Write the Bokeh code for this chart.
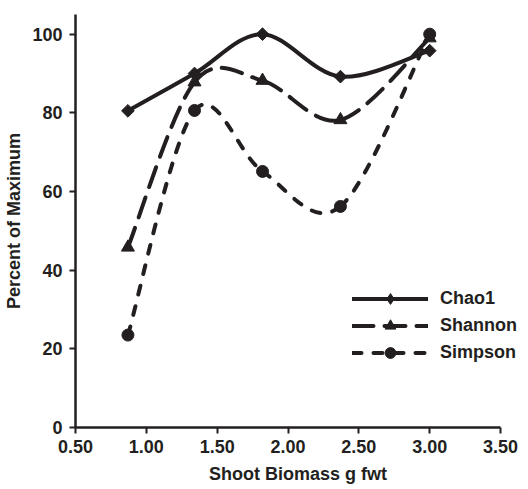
import math
from bokeh.plotting import figure
from bokeh.models import Legend, LegendItem, NumeralTickFormatter, FixedTicker, Range1d
from bokeh.embed import file_html
from bokeh.resources import INLINE

# ---- data ----
biomass = [0.87, 1.34, 1.82, 2.37, 3.00]
chao1 = [80.5, 90.0, 100.0, 89.2, 95.8]
shannon = [45.8, 87.8, 88.2, 78.2, 99.0]
simpson = [23.5, 80.6, 65.1, 56.2, 100.0]
x_ticks = [0.5, 1.0, 1.5, 2.0, 2.5, 3.0, 3.5]
y_ticks = [0, 20, 40, 60, 80, 100]

INK = "#231f20"
FONT = "Liberation Sans"
NAN = float("nan")


def smooth_segments(xs, ys):
    """Cubic Bezier segments (Catmull-Rom style smoothing, like a spreadsheet 'smoothed line')."""
    n = len(xs)
    px = [xs[0]] + list(xs) + [xs[-1]]
    py = [ys[0]] + list(ys) + [ys[-1]]
    seg = dict(x0=[], y0=[], x1=[], y1=[], cx0=[], cy0=[], cx1=[], cy1=[])
    for i in range(n - 1):
        a, b, c, d = i, i + 1, i + 2, i + 3
        seg["x0"].append(px[b]); seg["y0"].append(py[b])
        seg["x1"].append(px[c]); seg["y1"].append(py[c])
        seg["cx0"].append(px[b] + (px[c] - px[a]) / 6.0)
        seg["cy0"].append(py[b] + (py[c] - py[a]) / 6.0)
        seg["cx1"].append(px[c] - (px[d] - px[b]) / 6.0)
        seg["cy1"].append(py[c] - (py[d] - py[b]) / 6.0)
    return seg


p = figure(width=528, height=489, output_backend="svg", toolbar_location=None,
           x_range=Range1d(0.5, 3.5 + 20 / 142.0), y_range=Range1d(0, 105),
           min_border_left=75, min_border_right=8, min_border_top=14, min_border_bottom=62)
p.outline_line_color = None
p.grid.visible = False
p.background_fill_color = "white"
p.border_fill_color = "white"

series = [
    ("Chao1", chao1, None, "square", 9, math.pi / 4, "diamond"),
    ("Shannon", shannon, "21 11", "triangle", 13, 0.0, "triangle"),
    ("Simpson", simpson, "9 12", "circle", 12, 0.0, "circle"),
]

items = []
for name, ys, dash, marker, size, ang, leg_marker in series:
    seg = smooth_segments(biomass, ys)
    kw = dict(line_color=INK, line_width=4, line_cap="round")
    if dash:
        kw["line_dash"] = dash
    p.bezier(x0=seg["x0"], y0=seg["y0"], x1=seg["x1"], y1=seg["y1"],
             cx0=seg["cx0"], cy0=seg["cy0"], cx1=seg["cx1"], cy1=seg["cy1"], **kw)
    p.scatter(x=biomass, y=ys, marker=marker, size=size, angle=ang,
              fill_color=INK, line_color=INK)
    # legend-only glyphs (no visible data)
    leg_line = p.line(x=[NAN, NAN], y=[NAN, NAN], **kw)
    leg_mark = p.scatter(x=[NAN], y=[NAN], marker=leg_marker, size=10,
                         fill_color=INK, line_color=INK)
    items.append(LegendItem(label=name, renderers=[leg_line, leg_mark]))

legend = Legend(items=items, location=(277, 61), glyph_width=76, glyph_height=27,
                label_height=27, spacing=0, padding=0, margin=0, label_standoff=12,
                border_line_color=None, background_fill_alpha=0,
                label_text_font=FONT, label_text_font_style="bold",
                label_text_font_size="18px", label_text_color=INK)
p.add_layout(legend)

for ax in (p.xaxis[0], p.yaxis[0]):
    ax.axis_line_color = INK
    ax.axis_line_width = 2.5
    ax.major_tick_line_color = INK
    ax.major_tick_line_width = 2
    ax.major_tick_out = 6
    ax.major_tick_in = 0
    ax.minor_tick_line_color = None
    ax.major_label_text_font = FONT
    ax.major_label_text_font_style = "bold"
    ax.major_label_text_font_size = "18px"
    ax.major_label_text_color = INK
    ax.axis_label_text_font = FONT
    ax.axis_label_text_font_style = "bold"
    ax.axis_label_text_font_size = "18px"
    ax.axis_label_text_color = INK

p.xaxis.ticker = FixedTicker(ticks=x_ticks)
p.xaxis.bounds = (0.5, 3.5)
p.xaxis.formatter = NumeralTickFormatter(format="0.00")
p.xaxis.axis_label = "Shoot Biomass g fwt"
p.xaxis.major_label_standoff = 6
p.xaxis.axis_label_standoff = 8

p.yaxis.ticker = FixedTicker(ticks=y_ticks)
p.yaxis.axis_label = "Percent of Maximum"
p.yaxis.major_label_standoff = 7
p.yaxis.axis_label_standoff = 5

open("out.html", "w").write(file_html(p, INLINE))
